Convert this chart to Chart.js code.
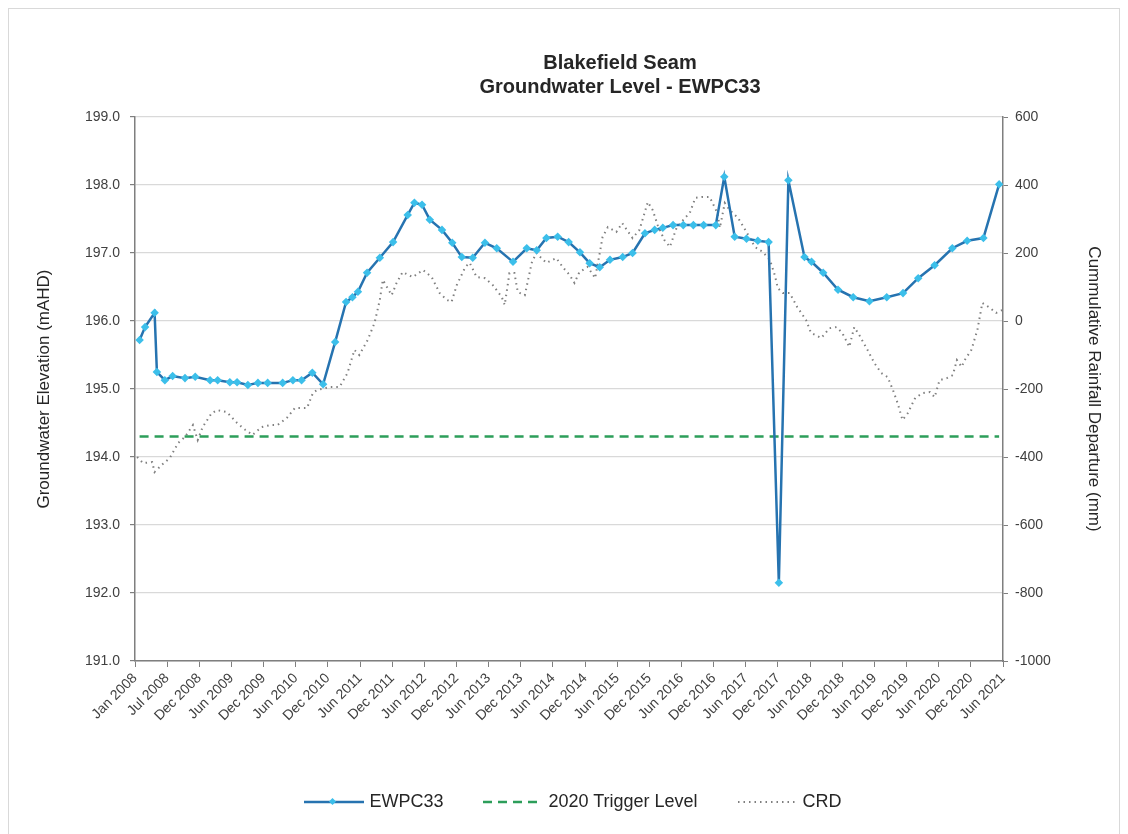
<!DOCTYPE html>
<html lang="en"><head>
<title>Blakefield Seam - EWPC33</title>
<meta charset="utf-8">
<style type="text/css">
body { margin:0; background:#ffffff; font-family:"Liberation Sans",Arial,sans-serif; }
#wrap { position:relative; width:1128px; height:834px; overflow:hidden; }
#frame { position:absolute; left:8px; top:8px; width:1110px; height:840px; border:1px solid #d9d9d9; }
#title { position:absolute; left:0; top:50px; width:1240px; text-align:center; font-weight:bold;
         font-size:20px; line-height:24px; color:#262626; }
#legend { position:absolute; left:0; top:791px; width:1146px; display:flex; justify-content:center;
          font-size:18px; color:#262626; }
.item { display:flex; align-items:center; margin:0 20px; }
.item svg { margin-right:5px; }
canvas { position:absolute; left:0; top:0; }
</style>
<script src="https://cdn.jsdelivr.net/npm/chart.js"></script>
<script>
// EWPC33 groundwater level (mAHD)
ewDates=['2008-01-27','2008-02-27','2008-04-21','2008-05-04','2008-06-18','2008-08-01','2008-10-10','2008-12-07',
  '2009-03-01','2009-04-13','2009-06-21','2009-08-01','2009-10-01','2009-11-27','2010-01-21','2010-04-16',
  '2010-06-13','2010-08-01','2010-10-01','2010-12-01','2011-02-07','2011-04-10','2011-05-16','2011-06-16',
  '2011-08-07','2011-10-18','2012-01-01','2012-03-24','2012-05-01','2012-06-13','2012-07-27','2012-10-04',
  '2012-12-01','2013-01-24','2013-03-27','2013-06-04','2013-08-10','2013-11-10','2014-01-27','2014-03-24',
  '2014-05-18','2014-07-21','2014-09-21','2014-11-24','2015-01-18','2015-03-16','2015-05-13','2015-07-24',
  '2015-09-18','2015-11-27','2016-01-21','2016-03-07','2016-05-04','2016-07-01','2016-08-27','2016-10-24',
  '2017-01-01','2017-02-18','2017-04-18','2017-06-24','2017-08-27','2017-10-27','2017-12-24','2018-02-16',
  '2018-05-18','2018-06-27','2018-09-01','2018-11-24','2019-02-18','2019-05-21','2019-08-27','2019-11-27',
  '2020-02-21','2020-05-24','2020-09-01','2020-11-24','2021-02-24','2021-05-24'];
ewValues=[195.72,195.91,196.12,195.25,195.13,195.19,195.16,195.18,
  195.13,195.13,195.10,195.10,195.06,195.09,195.09,195.09,
  195.13,195.13,195.24,195.07,195.69,196.28,196.35,196.43,
  196.71,196.93,197.16,197.56,197.74,197.71,197.49,197.34,
  197.15,196.94,196.93,197.15,197.07,196.87,197.07,197.04,
  197.22,197.24,197.16,197.01,196.85,196.79,196.90,196.94,
  197.00,197.29,197.34,197.37,197.41,197.41,197.41,197.41,
  197.41,198.12,197.24,197.21,197.18,197.16,192.15,198.07,
  196.94,196.87,196.71,196.46,196.35,196.29,196.35,196.41,
  196.63,196.82,197.07,197.18,197.22,198.01];

// 2020 trigger level (mAHD)
triggerDates=['2008-01-27','2021-05-24'];
triggerLevel=194.3;

// cumulative rainfall departure (mm)
crdDates=['2008-01-13','2008-02-16','2008-04-07','2008-04-21','2008-06-01','2008-07-16','2008-09-01','2008-10-10',
  '2008-11-24','2008-12-21','2009-01-18','2009-03-10','2009-04-10','2009-06-04','2009-08-01','2009-09-16',
  '2009-10-27','2009-12-18','2010-02-04','2010-03-18','2010-05-10','2010-06-24','2010-09-01','2010-10-04',
  '2010-10-27','2011-01-10','2011-03-04','2011-04-18','2011-05-27','2011-06-24','2011-08-10','2011-09-18',
  '2011-10-18','2011-11-04','2011-12-24','2012-01-21','2012-02-24','2012-04-21','2012-06-18','2012-08-07',
  '2012-09-21','2012-11-01','2012-11-27','2012-12-27','2013-02-13','2013-03-10','2013-04-18','2013-06-04',
  '2013-07-18','2013-09-07','2013-09-24','2013-10-21','2013-11-18','2013-12-07','2014-01-16','2014-02-24',
  '2014-03-21','2014-05-18','2014-07-13','2014-08-18','2014-09-27','2014-10-24','2014-11-21','2015-01-07',
  '2015-02-18','2015-03-16','2015-04-01','2015-05-01','2015-06-18','2015-07-21','2015-09-18','2015-10-27',
  '2015-12-13','2016-01-10','2016-02-07','2016-03-16','2016-04-16','2016-05-24','2016-07-10','2016-08-07',
  '2016-09-07','2016-10-18','2016-11-27','2017-01-10','2017-01-24','2017-02-21','2017-03-21','2017-05-07',
  '2017-06-24','2017-08-10','2017-09-24','2017-11-04','2017-12-01','2017-12-18','2018-01-16','2018-02-24',
  '2018-04-07','2018-05-27','2018-06-24','2018-08-21','2018-10-07','2018-11-16','2018-12-18','2019-01-27',
  '2019-02-24','2019-03-24','2019-05-10','2019-06-18','2019-07-27','2019-09-01','2019-10-01','2019-10-27',
  '2019-11-24','2019-12-24','2020-02-04','2020-03-18','2020-04-27','2020-05-24','2020-06-21','2020-08-01',
  '2020-09-04','2020-09-27','2020-10-24','2020-11-10','2020-12-18','2021-01-21','2021-02-18','2021-03-27',
  '2021-05-07','2021-06-10'];
crdValues=[-400,-418,-415,-444,-423,-403,-359,-341,
  -306,-350,-312,-271,-262,-268,-300,-320,
  -335,-312,-306,-306,-285,-256,-256,-212,
  -203,-194,-194,-153,-85,-100,-56,-6,
  62,121,76,112,144,129,150,129,
  82,62,56,106,159,171,129,126,
  106,71,47,141,141,85,76,171,
  200,171,185,159,135,112,144,159,
  126,200,247,276,262,288,244,268,
  350,326,282,238,218,274,303,318,
  362,365,365,318,274,347,326,303,
  262,218,203,179,135,97,82,82,
  41,3,-35,-50,-21,-18,-35,-76,
  -18,-41,-85,-124,-153,-165,-203,-241,
  -291,-271,-226,-212,-209,-224,-174,-168,
  -159,-115,-135,-115,-85,-26,53,41,
  24,32];

// x axis: a tick every 182 days from 1 Jan 2008
xTickLabels=['Jan 2008','Jul 2008','Dec 2008','Jun 2009','Dec 2009','Jun 2010','Dec 2010','Jun 2011',
  'Dec 2011','Jun 2012','Dec 2012','Jun 2013','Dec 2013','Jun 2014','Dec 2014','Jun 2015',
  'Dec 2015','Jun 2016','Dec 2016','Jun 2017','Dec 2017','Jun 2018','Dec 2018','Jun 2019',
  'Dec 2019','Jun 2020','Dec 2020','Jun 2021'];
tickStep=182;

function dayNum(s) {
  var p=s.split('-');
  return (Date.UTC(p[0]*1,p[1]*1-1,p[2]*1)-Date.UTC(2008,0,1))/86400000; }

function pairs(dates,values) {
  var out=[];
  for (var i=0;i<dates.length;i++) { out.push({x:dayNum(dates[i]),y:values[i]}); }
  return out; }

function initChart() {
  Chart.defaults.font.family='"Liberation Sans",Arial,sans-serif';
  Chart.defaults.color='#404040';
  var trig=[]; for (var i=0;i<triggerDates.length;i++) { trig.push(triggerLevel); }

  data={datasets:[{
    label:'EWPC33',data:pairs(ewDates,ewValues),yAxisID:'y',order:0,
    borderColor:'#2673b0',borderWidth:2.5,backgroundColor:'#3cbfea',
    pointStyle:'rectRot',pointRadius:2.5,pointBorderColor:'#3cbfea',pointBackgroundColor:'#3cbfea',tension:0},{
    label:'2020 Trigger Level',data:pairs(triggerDates,trig),yAxisID:'y',order:1,
    borderColor:'#2c9e5a',borderWidth:2.5,borderDash:[9,6],pointRadius:0,tension:0},{
    label:'CRD',data:pairs(crdDates,crdValues),yAxisID:'y2',order:2,
    borderColor:'#7f7f7f',borderWidth:2,borderDash:[1.5,4],pointRadius:0,tension:0}]};

  config={type:'line',data:data,options:{
    responsive:false,animation:false,
    layout:{padding:{top:117,left:30,right:20,bottom:0}},
    plugins:{legend:{display:false},title:{display:false},tooltip:{enabled:false}},
    scales:{
      x:{type:'linear',min:0,max:tickStep*(xTickLabels.length-1),
        afterFit:function(s){s.height=173;},
        grid:{drawOnChartArea:false,drawTicks:true,tickLength:6,color:'#7f7f7f'},
        border:{color:'#7f7f7f',width:1.5},
        ticks:{stepSize:tickStep,autoSkip:false,minRotation:45,maxRotation:45,padding:3,
          font:{size:14},color:'#404040',
          callback:function(v){return xTickLabels[Math.round(v/tickStep)];}}},
      y:{position:'left',min:191,max:199,
        afterFit:function(s){s.width=105;},
        grid:{color:'#d9d9d9',lineWidth:1.2,tickLength:5,tickColor:'#7f7f7f'},
        border:{color:'#7f7f7f',width:1.5},
        title:{display:true,text:'Groundwater Elevation (mAHD)',font:{size:17},color:'#262626',padding:4},
        ticks:{stepSize:1,padding:10,font:{size:14},color:'#404040',
          callback:function(v){return v.toFixed(1);}}},
      y2:{position:'right',min:-1000,max:600,
        afterFit:function(s){s.width=105;},
        grid:{drawOnChartArea:false,tickLength:5,color:'#7f7f7f'},
        border:{color:'#7f7f7f',width:1.5},
        title:{display:true,text:'Cummulative Rainfall Departure (mm)',font:{size:17},color:'#262626',padding:4},
        ticks:{stepSize:200,padding:7,font:{size:14},color:'#404040',
          callback:function(v){return String(v);}}}}}};

  myChart=new Chart(document.getElementById('myChart'),config); }
</script></head>
<body onload="initChart();">
<div id="wrap">
  <canvas id="myChart" width="1128" height="834"></canvas>
  <div id="frame"></div>
  <div id="title">Blakefield Seam<br>Groundwater Level - EWPC33</div>
  <div id="legend">
    <span class="item"><svg width="60" height="12"><line x1="0" y1="6" x2="60" y2="6" stroke="#2673b0" stroke-width="2.5"/><rect x="26" y="3" width="5" height="5" fill="#3cbfea" transform="rotate(45 28.5 5.5)"/></svg>EWPC33</span>
    <span class="item"><svg width="60" height="12"><line x1="0" y1="6" x2="60" y2="6" stroke="#2c9e5a" stroke-width="2.5" stroke-dasharray="9 6"/></svg>2020 Trigger Level</span>
    <span class="item"><svg width="60" height="12"><line x1="0" y1="6" x2="60" y2="6" stroke="#7f7f7f" stroke-width="2" stroke-dasharray="1.5 4"/></svg>CRD</span>
  </div>
</div>
</body></html>
